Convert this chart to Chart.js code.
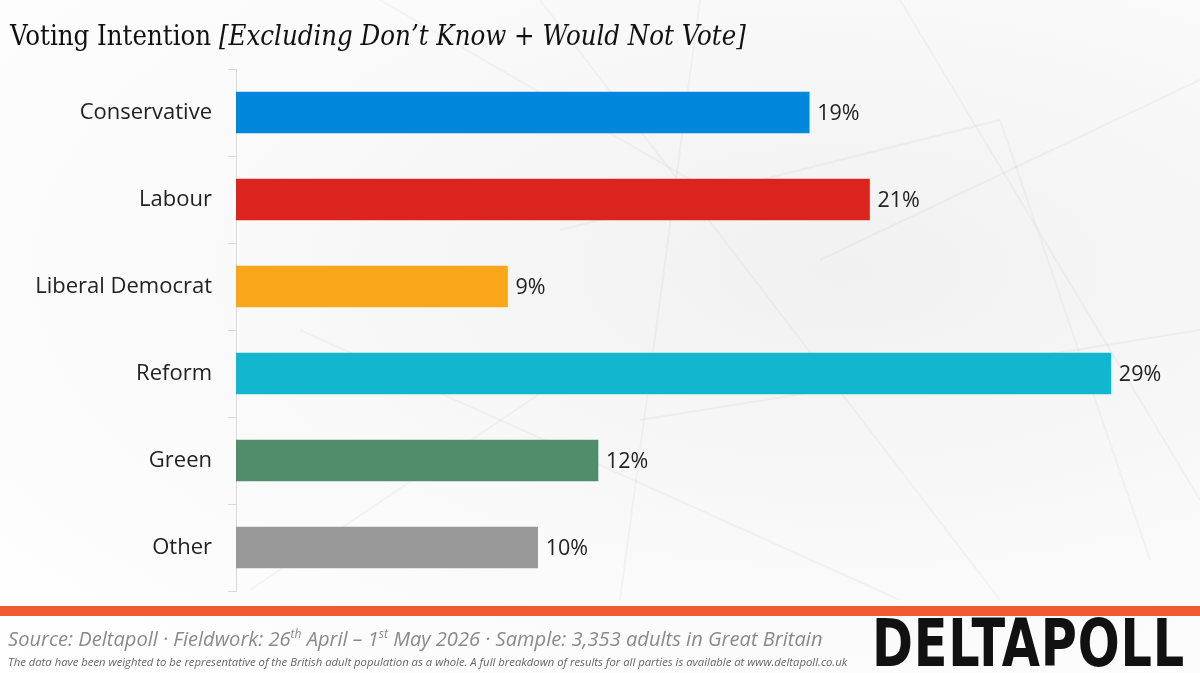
<!DOCTYPE html>
<html>
<head>
<meta charset="utf-8">
<script src="https://cdn.jsdelivr.net/npm/chart.js@4.4.1/dist/chart.umd.min.js"></script>
<style>
  html, body { margin: 0; padding: 0; background: #fff; }
  #wrap { position: relative; width: 1200px; height: 673px; overflow: hidden;
    background: radial-gradient(ellipse at 70% 40%, #f1f1f1 0%, #fafafa 55%, #ffffff 100%); }
  #wrap canvas { position: absolute; left: 0; top: 0; }
  .title { position: absolute; left: 10px; top: 20px; font-family: "DejaVu Serif Condensed", "DejaVu Serif", serif;
    font-size: 27.3px; color: #111; white-space: nowrap; }
  .title i { font-style: italic; }
  .bar { position: absolute; left: 0; top: 606px; width: 1200px; height: 10px; background: #ef5a33; }
  .src { position: absolute; left: 8px; top: 625px; font-family: "Open Sans", sans-serif; font-style: italic;
    font-size: 20.1px; color: #8a8a8a; white-space: nowrap; }
  .src sup { font-size: 12px; }
  .note { position: absolute; left: 8px; top: 654px; font-family: "Open Sans", sans-serif; font-style: italic;
    font-size: 11.3px; color: #666; white-space: nowrap; }
  .logo { position: absolute; left: 872px; top: 611px; font-family: "Liberation Sans Narrow", "DejaVu Sans Condensed", sans-serif;
    font-weight: bold; font-size: 66px; line-height: 66px; color: #111; letter-spacing: 1px; white-space: nowrap;
    transform-origin: left top; }
</style>
</head>
<body>
<div id="wrap">
  <canvas id="voteChart" width="1200" height="673"></canvas>
  <div class="title">Voting Intention <i>[Excluding Don’t Know + Would Not Vote]</i></div>
  <div class="bar"></div>
  <div class="src">Source: Deltapoll · Fieldwork: 26<sup>th</sup> April – 1<sup>st</sup> May 2026 · Sample: 3,353 adults in Great Britain</div>
  <div class="note">The data have been weighted to be representative of the British adult population as a whole. A full breakdown of results for all parties is available at www.deltapoll.co.uk</div>
  <div class="logo" id="logo">DELTAPOLL</div>
</div>
<script>
const parties = ['Conservative', 'Labour', 'Liberal Democrat', 'Reform', 'Green', 'Other'];
const shares = [19, 21, 9, 29, 12, 10];
const partyColours = ['#0087DC', '#DC241F', '#F9A61B', '#12B6CF', '#528D6B', '#999999'];

// fit logo width
const logo = document.getElementById('logo');
const lw = logo.getBoundingClientRect().width;
logo.style.transform = 'scaleX(' + (313 / lw) + ')';

// faint background lines
const bgLines = {
  id: 'bgLines',
  beforeDraw(chart) {
    const ctx = chart.ctx;
    ctx.save();
    ctx.strokeStyle = 'rgba(120,120,120,0.06)';
    ctx.lineWidth = 2;
    const segs = [[540,0,1000,600],[700,0,620,600],[820,260,1200,80],[300,330,900,600],[900,0,1200,500],
      [560,230,1000,120],[1000,120,1150,560],[380,0,760,220],[640,420,1200,330],[250,590,560,380]];
    segs.forEach(s => { ctx.beginPath(); ctx.moveTo(s[0], s[1]); ctx.lineTo(s[2], s[3]); ctx.stroke(); });
    ctx.restore();
  }
};

// percentage labels after each bar
const valueLabels = {
  id: 'valueLabels',
  afterDatasetsDraw(chart) {
    const ctx = chart.ctx;
    ctx.save();
    ctx.font = '21.5px "Open Sans", sans-serif';
    ctx.fillStyle = '#222';
    ctx.textBaseline = 'middle';
    chart.getDatasetMeta(0).data.forEach((bar, i) => {
      ctx.fillText(shares[i] + '%', bar.x + 8, bar.y + 1);
    });
    ctx.restore();
  }
};

const voteChart = new Chart(document.getElementById('voteChart'), {
  type: 'bar',
  data: {
    labels: parties,
    datasets: [{
      data: shares,
      backgroundColor: partyColours,
      barThickness: 41
    }]
  },
  options: {
    indexAxis: 'y',
    responsive: false,
    animation: false,
    layout: { padding: { left: 0, top: 69, right: 59, bottom: 82 } },
    plugins: {
      legend: { display: false },
      tooltip: { enabled: false }
    },
    scales: {
      x: { display: false, min: 0, max: 30 },
      y: {
        afterFit: function(scale) { scale.width = 236; },
        border: { color: '#d9d9d9', width: 1 },
        grid: { drawOnChartArea: false, color: '#d9d9d9', tickLength: 8 },
        ticks: {
          padding: 16,
          color: '#222',
          font: { family: '"Open Sans", sans-serif', size: 22 }
        }
      }
    }
  },
  plugins: [bgLines, valueLabels]
});
</script>
</body>
</html>
